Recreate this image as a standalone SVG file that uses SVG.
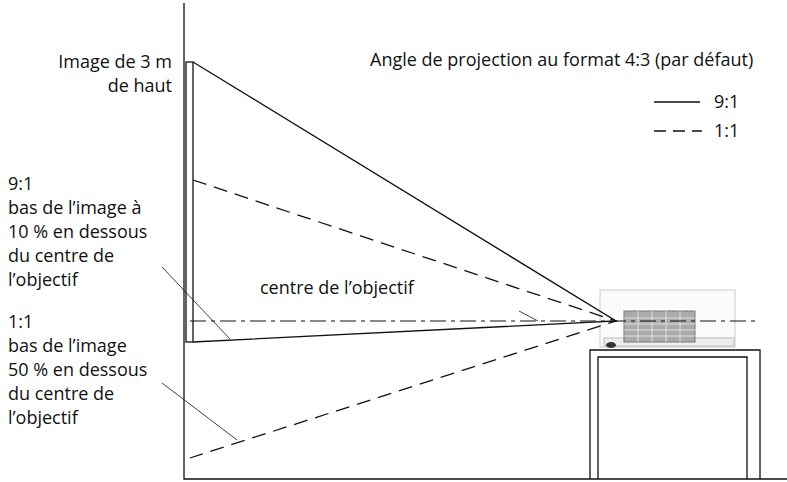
<svg xmlns="http://www.w3.org/2000/svg" width="787" height="482" viewBox="0 0 787 482">
<style>
text{font-family:"Open Sans","Liberation Sans",sans-serif;font-size:18px;fill:#111}
.s{stroke:#111;stroke-width:1.3;fill:none}
.d{stroke:#111;stroke-width:1.3;fill:none;stroke-dasharray:14 8}
.t{stroke:#111;stroke-width:0.8;fill:none}
</style>
<rect width="787" height="482" fill="#fff"/>
<g id="wall"><path class="s" d="M184 3V479H787" stroke-width="1.6"/></g>
<g id="screen"><rect x="186" y="62" width="7" height="280" class="s"/></g>
<g id="table"><path class="s" d="M590 479V350H760V479" stroke-width="1.6"/><path class="s" d="M598 479V357H747V479" stroke-width="1.6"/></g>
<g id="projector">
<rect x="600" y="290" width="135" height="57" fill="#fbfbfb" stroke="#ccc"/>
<rect x="604" y="338" width="130" height="8" fill="#eee" stroke="#bbb"/>
<rect x="624" y="311" width="71" height="31" fill="#aaa" stroke="#777"/>
<path d="M624 318H695M624 324H695M624 330H695M624 336H695M638 311V342M652 311V342M666 311V342M680 311V342" stroke="#eee" stroke-width="0.8"/>
<ellipse cx="611" cy="345" rx="5" ry="3" fill="#333"/>
</g>
<g id="connectors">
<path class="s" d="M193 62L616 321L193 342"/>
<path class="d" d="M193 180L616 321L190 458"/>
<path stroke="#111" stroke-width="1.2" fill="none" stroke-dasharray="16 5 4 5" d="M190 321H758"/>
<path class="t" d="M162 267L230 339M162 383L237 440M519 311L538 321"/>
</g>
<g id="labels">
<text x="172" y="68" text-anchor="end">Image de 3 m</text>
<text x="172" y="92" text-anchor="end">de haut</text>
<text x="370" y="66">Angle de projection au format 4:3 (par défaut)</text>
<path class="s" d="M654 102H700"/><text x="714" y="108">9:1</text>
<path class="s" d="M654 131H702" stroke-dasharray="12 7"/><text x="714" y="137">1:1</text>
<text x="260" y="294">centre de l’objectif</text>
<text x="8" y="190">9:1</text>
<text x="8" y="214">bas de l’image à</text>
<text x="8" y="238">10 % en dessous</text>
<text x="8" y="262">du centre de</text>
<text x="8" y="286">l’objectif</text>
<text x="8" y="328">1:1</text>
<text x="8" y="352">bas de l’image</text>
<text x="8" y="376">50 % en dessous</text>
<text x="8" y="400">du centre de</text>
<text x="8" y="424">l’objectif</text>
</g>
</svg>
